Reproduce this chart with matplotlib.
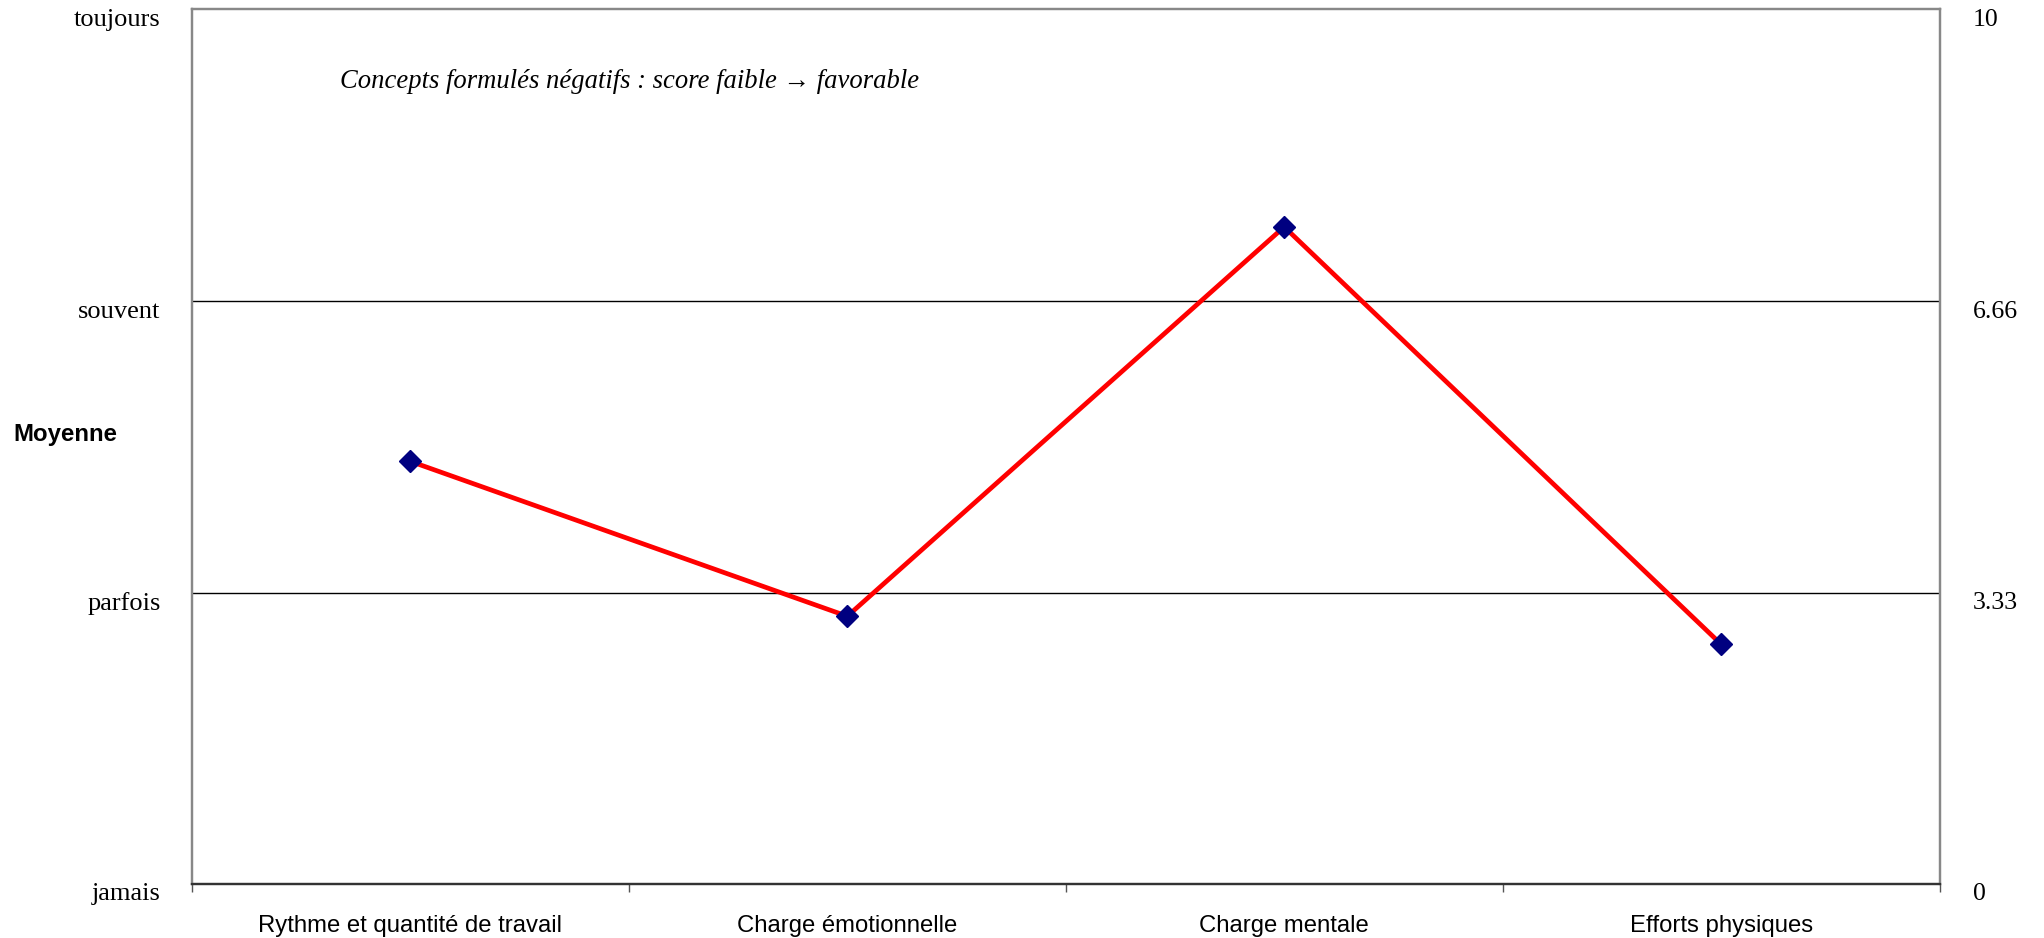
import matplotlib
matplotlib.use("Agg")
import matplotlib.pyplot as plt
from matplotlib.transforms import ScaledTranslation

# === Data ===
categories = ["Rythme et quantité de travail", "Charge émotionnelle",
              "Charge mentale", "Efforts physiques"]
moyennes = [4.83, 3.06, 7.51, 2.74]

freq_ticks = [0, 3.33, 6.66, 10]
freq_labels = ["jamais", "parfois", "souvent", "toujours"]
score_labels = ["0", "3.33", "6.66", "10"]

serif = ["Liberation Serif", "DejaVu Serif"]
sans = ["Liberation Sans", "DejaVu Sans"]

fig = plt.figure(figsize=(20.44, 9.38), dpi=100)
ax = fig.add_axes([0.0939, 0.0576, 0.855, 0.9328])

xpos = [i + 0.5 for i in range(len(categories))]
ax.plot(xpos, moyennes, color="#ff0000", lw=3.4, zorder=3)
ax.plot(xpos, moyennes, ls="none", marker="D", ms=11, color="#000080", zorder=4)

ax.set_xlim(0, len(categories))
ax.set_ylim(0, 10)

# horizontal reference lines
for y in freq_ticks[1:3]:
    ax.axhline(y, color="black", lw=1.0, zorder=1)

# x axis: ticks between categories, labels centred in each slot
ax.set_xticks(range(len(categories) + 1))
ax.set_xticklabels([])
ax.set_xticks(xpos, minor=True)
ax.set_xticklabels(categories, minor=True, fontsize=17.2, family=sans)
ax.tick_params(axis="x", which="major", length=6, width=1, color="#555555")
ax.tick_params(axis="x", which="minor", length=0, pad=22)

# left labels
ax.set_yticks(freq_ticks)
ax.set_yticklabels(freq_labels, fontsize=19, family=serif)
ax.tick_params(axis="y", length=0, pad=22.5)

# right labels
ax2 = ax.twinx()
ax2.set_ylim(0, 10)
ax2.set_yticks(freq_ticks)
ax2.set_yticklabels(score_labels, fontsize=18.5, family=serif)
ax2.tick_params(axis="y", length=0, pad=24)

# nudge the y labels slightly below their tick positions
shift = ScaledTranslation(0, -8 / 100, fig.dpi_scale_trans)
for lab in ax.get_yticklabels() + ax2.get_yticklabels():
    lab.set_transform(lab.get_transform() + shift)

for a in (ax, ax2):
    for side in ("left", "top", "right"):
        a.spines[side].set_color("#888888")
        a.spines[side].set_linewidth(1.6)
    a.spines["bottom"].set_color("#333333")
    a.spines["bottom"].set_linewidth(1.6)

ax.text(0.085, 0.917, "Concepts formulés négatifs : score faible → favorable",
        transform=ax.transAxes, fontsize=19.2, style="italic", family=serif,
        ha="left", va="center")

fig.text(13 / 2044, 1 - 434 / 938, "Moyenne", fontsize=17.3, fontweight="bold",
         family=sans, ha="left", va="center")

fig.savefig("out.png", dpi=100)
